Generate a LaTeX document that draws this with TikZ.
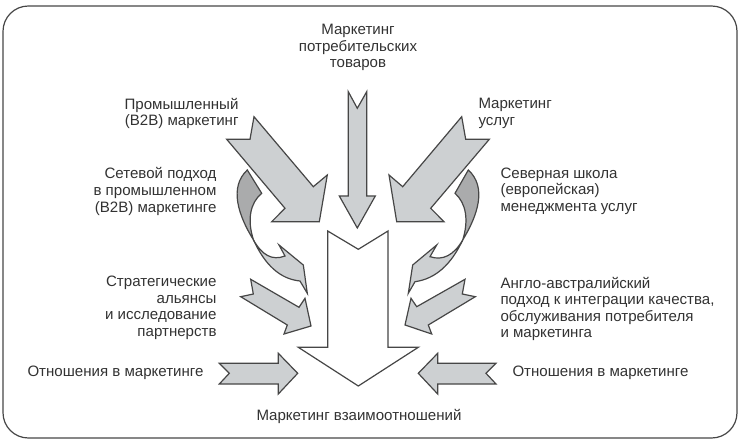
\documentclass[tikz,border=0pt]{standalone}
\usepackage{fontspec}
\setmainfont{Liberation Sans}
\definecolor{arrowfill}{RGB}{205,208,210}
\definecolor{twistfill}{RGB}{170,171,172}
\definecolor{edgegray}{RGB}{70,70,70}
\definecolor{textgray}{RGB}{50,50,50}
\tikzset{every picture/.style={line width=0.75pt}}
\tikzset{
  lightarrow/.style={draw=edgegray,fill=arrowfill,line width=0.9pt,line join=miter},
  darktwist/.style={draw=edgegray,fill=twistfill,line width=0.9pt},
  whitearrow/.style={draw=edgegray,fill=white,line width=0.9pt},
  label/.style={text=textgray,font=\fontsize{11.3}{12.4}\selectfont,inner sep=0pt}
}

\begin{document}
\begin{tikzpicture}[x=0.75pt,y=0.75pt,yscale=-1,xscale=1]
\useasboundingbox (0,0) rectangle (742,445);

%Shape: Frame
\draw [edgegray,line width=0.9pt,rounded corners=19pt] (3,6) rectangle (737,438);

%Shape: Center Arrow
\draw [lightarrow] (348.3,91.7) -- (357.3,108.3) -- (366.7,91.7) -- (366.7,196) -- (375.3,196) -- (357.3,228) -- (339.3,196) -- (348.3,196) -- cycle;

%Shape: Industrial Arrow
\draw [lightarrow] (254,116.7) -- (313.3,186.7) -- (327.3,175) -- (319.3,221.7) -- (271.7,221.7) -- (285,208.3) -- (226.7,139.3) -- (250,139.3) -- cycle;

%Shape: Services Arrow
\draw [lightarrow] (461.7,116.7) -- (402.7,186.7) -- (389,175) -- (396.7,221.7) -- (444,221.7) -- (430.7,208.3) -- (489.3,139.3) -- (465.7,139.3) -- cycle;

%Shape: Big White Arrow
\draw [whitearrow] (327.7,231) -- (358.3,249.3) -- (388,231) -- (388,347.3) -- (418.3,347.3) -- (358.3,386) -- (298.3,347.3) -- (327.7,347.3) -- cycle;

%Shape: Left Twist
\draw [darktwist] (247.3,170) -- (261.7,193.3) .. controls (250,203) and (247,220) .. (253.5,240) .. controls (238,215) and (229,187) .. (247.3,170) -- cycle;
\draw [lightarrow] (253.5,240) .. controls (262,255) and (272,261) .. (285,256) -- (279,245) -- (303.3,265) -- (307.3,293.3) -- (300,281) .. controls (280,279) and (265,265) .. (253.5,240) -- cycle;

%Shape: Right Twist
\draw [darktwist] (468.3,170) -- (455,193.3) .. controls (466,203) and (469,220) .. (462.7,240) .. controls (478,215) and (487,187) .. (468.3,170) -- cycle;
\draw [lightarrow] (462.7,240) .. controls (454,255) and (443,261) .. (430,256.7) -- (436.7,245) -- (412.7,265) -- (408.3,293.3) -- (415,281.7) .. controls (435,279) and (451,265) .. (462.7,240) -- cycle;

%Shape: Alliances Arrow
\draw [lightarrow] (250.7,279.3) -- (299,307.3) -- (305,298.3) -- (311,326) -- (284,334) -- (287.3,325) -- (240.7,296.7) -- (253.3,294) -- cycle;

%Shape: Anglo Arrow
\draw [lightarrow] (465,279.3) -- (416.7,306.7) -- (411,298.3) -- (405,325) -- (431.7,334) -- (428.3,325) -- (475.3,296.7) -- (462.3,294) -- cycle;

%Shape: Left Bottom Arrow
\draw [lightarrow] (219.3,363.3) -- (278.3,363.3) -- (278.3,353.3) -- (297.7,373.3) -- (278.3,394) -- (278.3,384) -- (219.3,384) -- (229.3,373.3) -- cycle;

%Shape: Right Bottom Arrow
\draw [lightarrow] (496,363.3) -- (437.7,363.3) -- (437.7,353.3) -- (418.3,373.3) -- (437.7,394) -- (437.7,384) -- (496,384) -- (486,373.3) -- cycle;

% Text Node
\draw (358,47.5) node (consumer) [label,align=center] {Маркетинг\\потребительских\\товаров};
% Text Node
\draw (239,113.5) node (industrial) [label,anchor=east,align=right] {Промышленный\\(B2B) маркетинг};
% Text Node
\draw (478,113.5) node (services) [label,anchor=west,align=left] {Маркетинг\\услуг};
% Text Node
\draw (217,191.5) node (network) [label,anchor=east,align=right] {Сетевой подход\\в промышленном\\(B2B) маркетинге};
% Text Node
\draw (500,191) node (nordic) [label,anchor=west,align=left] {Северная школа\\(европейская)\\менеджмента услуг};
% Text Node
\draw (217,308) node (alliances) [label,anchor=east,align=right] {Стратегические\\альянсы\\и исследование\\партнерств};
% Text Node
\draw (500,309) node (anglo) [label,anchor=west,align=left] {Англо-австралийский\\подход к интеграции качества,\\обслуживания потребителя\\и маркетинга};
% Text Node
\draw (204,373) node (relleft) [label,anchor=east] {Отношения в маркетинге};
% Text Node
\draw (512,372.5) node (relright) [label,anchor=west] {Отношения в маркетинге};
% Text Node
\draw (359,416) node (relationship) [label] {Маркетинг взаимоотношений};

\end{tikzpicture}
\end{document}
